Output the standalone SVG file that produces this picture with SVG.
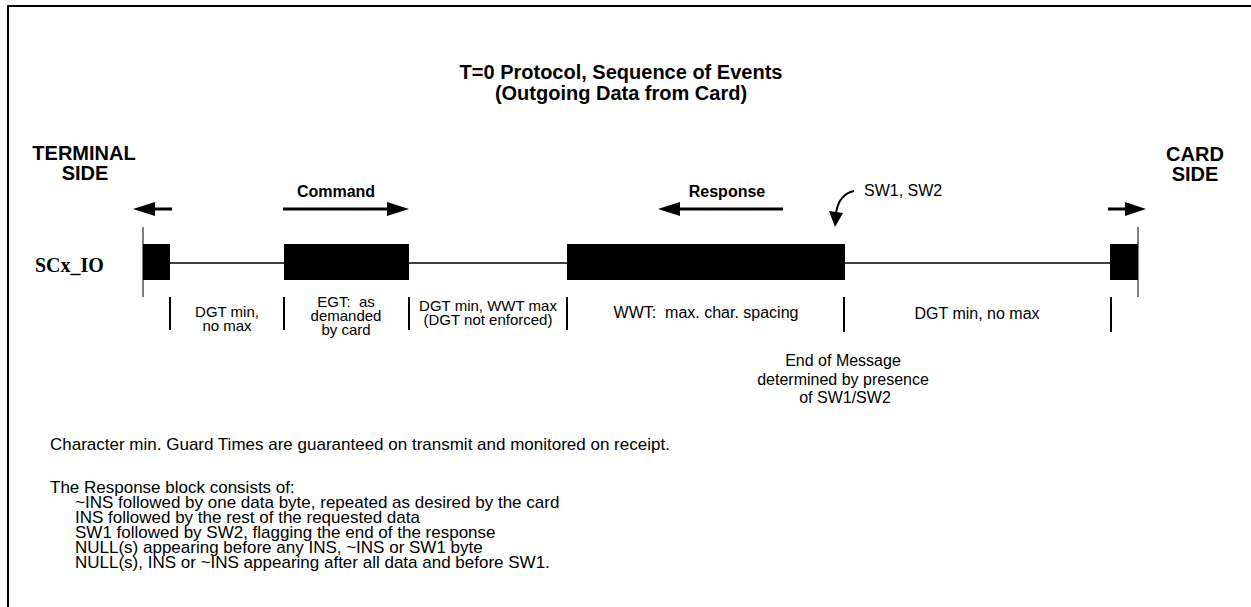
<svg xmlns="http://www.w3.org/2000/svg" width="1251" height="607" viewBox="0 0 1251 607">
<style>
text { font-family: "Liberation Sans", Arial, sans-serif; fill: #000; }
.title { font-size: 20px; font-weight: bold; text-anchor: middle; }
.side { font-size: 20px; font-weight: bold; text-anchor: middle; }
.dir { font-size: 16px; font-weight: bold; text-anchor: middle; }
.lbl { font-size: 16px; text-anchor: middle; }
.ml { font-size: 15px; text-anchor: middle; }
.note { font-size: 17px; }
.sig { font-family: "Liberation Serif", "Times New Roman", serif; font-size: 20px; font-weight: bold; }
.blk { fill: #000; }
.tick { stroke: #000; stroke-width: 2; }
.edge { stroke: #000; stroke-width: 1; }
.shaft { stroke: #000; stroke-width: 3; fill: none; }
.head { fill: #000; }
</style>
<rect width="1251" height="607" fill="#fff"/>
<path d="M8 607 V6 H1251" fill="none" stroke="#000" stroke-width="2"/>

<g id="title">
<text class="title" x="621" y="79">T=0 Protocol, Sequence of Events</text>
<text class="title" x="621" y="100">(Outgoing Data from Card)</text>
</g>

<g id="terminal-side">
<text class="side" x="84" y="160">TERMINAL</text>
<text class="side" x="85" y="180">SIDE</text>
</g>
<g id="card-side">
<text class="side" x="1195" y="161">CARD</text>
<text class="side" x="1195" y="181">SIDE</text>
</g>

<g id="signal-label"><text class="sig" x="35" y="272">SCx_IO</text></g>

<g id="signal">
<line x1="143" y1="263" x2="1138" y2="263" stroke="#000" stroke-width="1.5"/>
<line class="edge" x1="143" y1="227" x2="143" y2="297"/>
<line class="edge" x1="1138" y1="227" x2="1138" y2="297"/>
</g>
<g id="block-terminal"><rect class="blk" x="143" y="244" width="27" height="36"/></g>
<g id="block-command"><rect class="blk" x="284" y="244" width="125" height="36"/></g>
<g id="block-response"><rect class="blk" x="567" y="244" width="278" height="36"/></g>
<g id="block-card"><rect class="blk" x="1110" y="244" width="28" height="36"/></g>

<g id="connectors">
<line class="shaft" x1="155" y1="209" x2="172" y2="209"/>
<polygon class="head" points="133,209 155,202 155,216"/>
<line class="shaft" x1="283" y1="209" x2="388" y2="209"/>
<polygon class="head" points="409,209 387,202 387,216"/>
<line class="shaft" x1="679" y1="209" x2="783" y2="209"/>
<polygon class="head" points="658,209 680,202 680,216"/>
<line class="shaft" x1="1108" y1="209" x2="1126" y2="209"/>
<polygon class="head" points="1146,209 1125,202 1125,216"/>
<path d="M854 191 C845 193 838 200 836 213" stroke="#000" stroke-width="2" fill="none"/>
<polygon class="head" points="829,211 843,213 835,227"/>
</g>

<g id="dir-labels">
<text class="dir" x="336" y="197">Command</text>
<text class="dir" x="727" y="197">Response</text>
<text class="lbl" x="864" y="196" style="text-anchor:start">SW1, SW2</text>
</g>

<g id="ticks">
<line class="tick" x1="170" y1="297" x2="170" y2="330"/>
<line class="tick" x1="284" y1="297" x2="284" y2="330"/>
<line class="tick" x1="409" y1="297" x2="409" y2="330"/>
<line class="tick" x1="567" y1="297" x2="567" y2="330"/>
<line class="tick" x1="844" y1="297" x2="844" y2="332"/>
<line class="tick" x1="1111" y1="297" x2="1111" y2="332"/>
</g>

<g id="interval-labels">
<text class="ml" x="227" y="317">DGT min,</text>
<text class="ml" x="227" y="331">no max</text>
<text class="ml" x="346" y="307" xml:space="preserve">EGT:  as</text>
<text class="ml" x="346" y="321">demanded</text>
<text class="ml" x="346" y="335">by card</text>
<text class="ml" x="488" y="311">DGT min, WWT max</text>
<text class="ml" x="488" y="325">(DGT not enforced)</text>
<text class="lbl" x="706" y="318" xml:space="preserve">WWT:  max. char. spacing</text>
<text class="lbl" x="977" y="319">DGT min, no max</text>
</g>

<g id="end-of-message">
<text class="lbl" x="843" y="366">End of Message</text>
<text class="lbl" x="843" y="385">determined by presence</text>
<text class="lbl" x="845" y="403">of SW1/SW2</text>
</g>

<g id="notes">
<text class="note" x="50" y="450">Character min. Guard Times are guaranteed on transmit and monitored on receipt.</text>
<text class="note" x="50" y="493">The Response block consists of:</text>
<text class="note" x="75" y="508">~INS followed by one data byte, repeated as desired by the card</text>
<text class="note" x="75" y="523">INS followed by the rest of the requested data</text>
<text class="note" x="75" y="538">SW1 followed by SW2, flagging the end of the response</text>
<text class="note" x="75" y="553">NULL(s) appearing before any INS, ~INS or SW1 byte</text>
<text class="note" x="75" y="568">NULL(s), INS or ~INS appearing after all data and before SW1.</text>
</g>
</svg>
